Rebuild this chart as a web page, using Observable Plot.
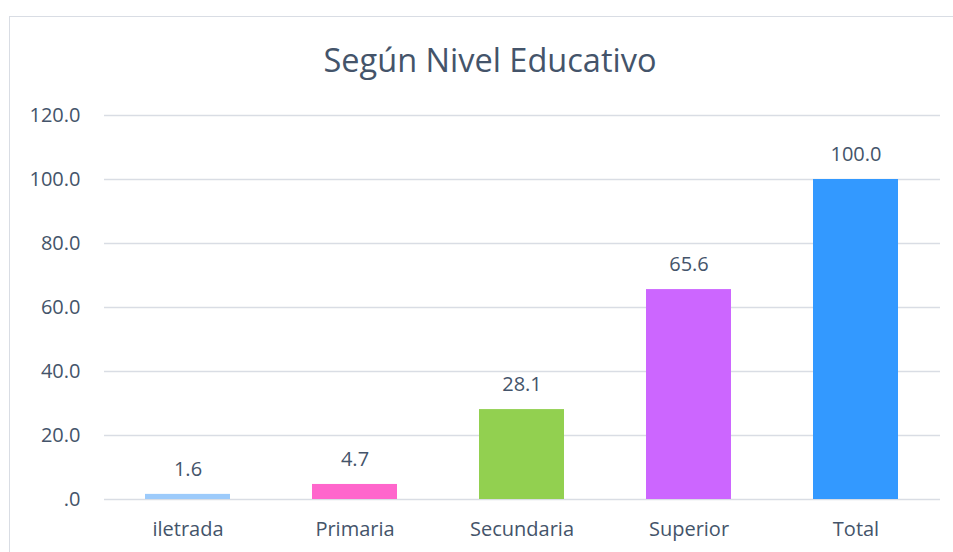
<!DOCTYPE html>
<html>
<head>
<meta charset="utf-8">
<script src="https://cdn.jsdelivr.net/npm/d3@7"></script>
<script src="https://cdn.jsdelivr.net/npm/@observablehq/plot@0.6"></script>
<style>
  html, body { margin: 0; padding: 0; background: #fff; }
  #wrap { position: relative; width: 953px; height: 552px; overflow: hidden; font-family: "Open Sans", sans-serif; }
  #frame { position: absolute; left: 9px; top: 16px; width: 960px; height: 560px; border: 1.5px solid #D9DDE4; box-sizing: border-box; }
  #title { position: absolute; left: 0; width: 980px; top: 37px; text-align: center; font-size: 32.5px; color: #44546A; }
  #chart { position: absolute; left: 0; top: 0; }
</style>
</head>
<body>
<div id="wrap">
  <div id="frame"></div>
  <div id="chart"></div>
  <div id="title">Según Nivel Educativo</div>
</div>
<script>
const categories = ["iletrada", "Primaria", "Secundaria", "Superior", "Total"];
const values = [1.6, 4.7, 28.1, 65.6, 100.0];
const colors = ["#9DCBFB", "#FF66CC", "#92D050", "#CC66FF", "#3399FF"];
const yTicks = [0, 20, 40, 60, 80, 100, 120];

const data = categories.map((c, i) => ({category: c, value: values[i], color: colors[i]}));
const fmtTick = v => v === 0 ? ".0" : v.toFixed(1);

const chart = Plot.plot({
  width: 953,
  height: 552,
  marginLeft: 104,
  marginRight: 13,
  marginTop: 115,
  marginBottom: 53,
  style: {fontFamily: "Open Sans, sans-serif", fontSize: "20px", color: "#44546A", background: "transparent"},
  x: {domain: categories, paddingInner: 0.49, paddingOuter: 0.245, label: null},
  y: {domain: [0, 120], label: null},
  marks: [
    Plot.gridY(yTicks, {stroke: "#D9DDE4", strokeOpacity: 1, strokeWidth: 1.5}),
    Plot.axisY(yTicks, {tickSize: 0, tickPadding: 24, tickFormat: fmtTick, fontSize: 20, fill: "#44546A", label: null}),
    Plot.axisX({tickSize: 0, tickPadding: 22, fontSize: 20, fill: "#44546A", label: null}),
    Plot.barY(data, {x: "category", y: "value", fill: "color"}),
    Plot.text(data, {x: "category", y: "value", text: d => d.value.toFixed(1), dy: -25, fontSize: 20, fill: "#44546A"})
  ]
});
document.getElementById("chart").appendChild(chart);
</script>
</body>
</html>
